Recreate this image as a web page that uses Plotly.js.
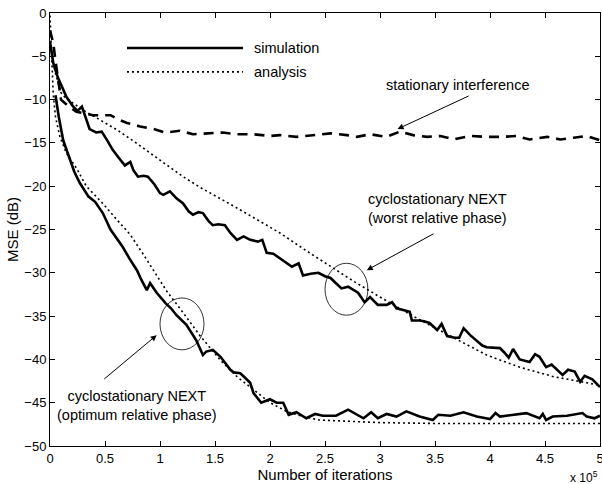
<!DOCTYPE html>
<html>
<head>
<meta charset="utf-8">
<script src="https://cdn.plot.ly/plotly-3.0.1.min.js"></script>
<style>
  html, body { margin: 0; padding: 0; background: #fff; }
  #chart { width: 602px; height: 484px; }
</style>
</head>
<body>
<div id="chart"></div>
<script>
// Iterations are in units of 1e5.

// Stationary interference, simulation (dashed)
const statX = [0, 0.03, 0.05, 0.08, 0.1, 0.17, 0.24, 0.39, 0.55, 0.62, 0.7, 0.82, 0.94, 1.05, 1.18, 1.3, 1.45, 1.57, 1.7, 1.85, 2.0, 2.09, 2.24, 2.39, 2.55, 2.7, 2.79, 2.91, 3.06, 3.18, 3.3, 3.43, 3.55, 3.67, 3.82, 3.97, 4.12, 4.24, 4.36, 4.52, 4.64, 4.76, 4.88, 5.0];
const statSim = [-2, -3.5, -5.5, -8.5, -10, -10.8, -11.4, -11.8, -11.8, -12.3, -12.7, -13.1, -13.4, -13.8, -13.6, -14.0, -13.9, -13.8, -14.0, -14.0, -14.2, -14.1, -14.3, -14.1, -13.9, -14.1, -14.3, -14.0, -14.3, -13.7, -14.1, -14.3, -14.2, -14.6, -14.2, -14.3, -14.3, -14.2, -14.6, -14.3, -14.6, -14.4, -14.2, -14.7];

// Cyclostationary NEXT, worst relative phase: simulation
const worstX = [0, 0.03, 0.07, 0.12, 0.15, 0.21, 0.25, 0.29, 0.32, 0.36, 0.42, 0.47, 0.52, 0.57, 0.63, 0.68, 0.73, 0.76, 0.80, 0.85, 0.89, 0.95, 1.00, 1.03, 1.09, 1.15, 1.21, 1.26, 1.30, 1.35, 1.39, 1.44, 1.48, 1.53, 1.59, 1.64, 1.70, 1.76, 1.82, 1.89, 1.93, 1.97, 2.03, 2.09, 2.15, 2.20, 2.26, 2.30, 2.37, 2.44, 2.50, 2.55, 2.60, 2.65, 2.71, 2.76, 2.80, 2.86, 2.91, 2.98, 3.06, 3.11, 3.15, 3.21, 3.27, 3.29, 3.36, 3.40, 3.45, 3.52, 3.56, 3.61, 3.68, 3.72, 3.76, 3.82, 3.88, 3.93, 3.97, 4.04, 4.09, 4.13, 4.17, 4.21, 4.27, 4.36, 4.41, 4.45, 4.51, 4.56, 4.61, 4.66, 4.71, 4.77, 4.82, 4.86, 4.93, 5.00];
const worstSim = [-3.3, -5.8, -7.4, -8.8, -9.7, -10.8, -11.3, -10.8, -12.0, -13.4, -13.8, -13.7, -14.7, -15.8, -16.8, -17.6, -17.2, -18.2, -18.9, -18.8, -18.9, -19.8, -20.8, -21.0, -20.6, -21.4, -22.0, -22.9, -23.3, -23.0, -23.1, -24.0, -24.5, -24.4, -24.5, -25.4, -26.2, -25.8, -26.2, -26.4, -26.2, -27.7, -27.8, -28.3, -28.9, -29.3, -28.9, -30.3, -30.1, -30.0, -30.4, -30.6, -31.2, -31.8, -31.6, -32.0, -32.3, -33.4, -32.8, -33.7, -33.7, -33.4, -34.1, -34.3, -34.5, -35.5, -35.5, -35.6, -35.8, -36.6, -35.9, -37.3, -37.5, -37.5, -36.4, -37.2, -37.8, -38.4, -38.6, -38.7, -38.7, -39.2, -39.8, -38.8, -40.0, -40.3, -39.4, -39.7, -40.9, -40.6, -41.2, -41.8, -41.2, -41.4, -42.6, -41.9, -42.3, -43.2];

// Cyclostationary NEXT, worst relative phase: analysis
const worstAnaX = [0, 0.05, 0.1, 0.14, 0.3, 0.45, 0.61, 0.76, 0.91, 1.06, 1.21, 1.36, 1.52, 1.67, 1.82, 2.0, 2.09, 2.3, 2.55, 2.75, 3.0, 3.3, 3.67, 3.97, 4.27, 4.58, 4.88, 5.0];
const worstAna = [-3.5, -7, -9.2, -9.8, -11.2, -12.3, -13.5, -14.8, -16.2, -17.6, -18.9, -20.1, -21.2, -22.3, -23.4, -24.7, -25.4, -27.2, -29.3, -30.9, -32.8, -35.0, -37.5, -39.5, -40.9, -42.0, -42.7, -43.0];

// Cyclostationary NEXT, optimum relative phase: simulation
const optX = [0.05, 0.08, 0.12, 0.18, 0.22, 0.27, 0.35, 0.41, 0.48, 0.55, 0.60, 0.66, 0.72, 0.79, 0.83, 0.88, 0.91, 0.97, 1.05, 1.10, 1.15, 1.24, 1.33, 1.39, 1.42, 1.48, 1.55, 1.60, 1.64, 1.67, 1.73, 1.78, 1.82, 1.85, 1.92, 2.00, 2.06, 2.12, 2.17, 2.24, 2.33, 2.41, 2.48, 2.60, 2.71, 2.85, 2.92, 2.98, 3.06, 3.15, 3.24, 3.36, 3.48, 3.53, 3.64, 3.76, 3.88, 4.00, 4.05, 4.09, 4.21, 4.33, 4.45, 4.48, 4.51, 4.57, 4.70, 4.84, 4.88, 4.95, 5.00];
const optSim = [-9.5, -12, -14.7, -17.0, -18.3, -19.6, -21.2, -21.8, -23.1, -25.0, -25.9, -27.0, -28.3, -29.7, -30.8, -32.0, -31.2, -32.3, -33.5, -34.1, -34.9, -36.0, -37.8, -39.5, -39.1, -38.9, -39.7, -40.5, -41.2, -41.5, -41.6, -42.2, -42.7, -43.9, -45.0, -44.6, -45.0, -45.0, -46.4, -46.1, -46.8, -46.3, -46.5, -46.5, -45.8, -46.8, -46.1, -46.8, -46.3, -46.6, -46.0, -46.6, -47.0, -46.4, -46.5, -46.1, -46.6, -46.9, -46.2, -46.6, -46.4, -46.2, -46.8, -46.3, -47.0, -46.6, -46.5, -46.2, -46.6, -46.8, -46.5];

// Cyclostationary NEXT, optimum relative phase: analysis
const optAnaX = [0, 0.01, 0.02, 0.03, 0.05, 0.09, 0.15, 0.24, 0.33, 0.48, 0.61, 0.73, 0.85, 0.94, 1.06, 1.21, 1.36, 1.55, 1.70, 1.82, 2.0, 2.15, 2.3, 2.45, 2.75, 3.0, 3.5, 4.0, 4.5, 5.0];
const optAna = [-0.3, -3, -6.2, -9.5, -12, -14.3, -16.2, -17.9, -20, -22, -23.9, -25.6, -27.9, -29.7, -32.1, -34.6, -37.2, -40.1, -42, -43.2, -45.0, -46.0, -46.6, -47.0, -47.2, -47.3, -47.4, -47.4, -47.4, -47.4];

const xTicks = [0, 0.5, 1, 1.5, 2, 2.5, 3, 3.5, 4, 4.5, 5];
const xTickText = ['0', '0.5', '1', '1.5', '2', '2.5', '3', '3.5', '4', '4.5', '5'];
const yTicks = [0, -5, -10, -15, -20, -25, -30, -35, -40, -45, -50];

const FONT = 'Liberation Sans, Arial, Helvetica, sans-serif';
const simLine = {color: '#000', width: 2.6};
const anaLine = {color: '#000', width: 1.6, dash: '2px,3px'};

const traces = [
  {x: optAnaX, y: optAna, mode: 'lines', line: anaLine, showlegend: false},
  {x: worstAnaX, y: worstAna, mode: 'lines', line: anaLine, showlegend: false},
  {x: statX, y: statSim, mode: 'lines', line: {color: '#000', width: 2.6, dash: '10px,7px'}, showlegend: false},
  {x: worstX, y: worstSim, mode: 'lines', line: simLine, showlegend: false},
  {x: optX, y: optSim, mode: 'lines', line: simLine, showlegend: false}
];

const txt = {family: FONT, size: 14.5, color: '#000'};
const arrow = {showarrow: true, arrowhead: 2, arrowsize: 1.2, arrowwidth: 1, arrowcolor: '#000', axref: 'x', ayref: 'y'};

const layout = {
  width: 602, height: 484,
  margin: {l: 50, r: 2, t: 13, b: 38},
  paper_bgcolor: '#fff', plot_bgcolor: '#fff',
  font: {family: FONT, size: 13, color: '#000'},
  xaxis: {
    range: [0, 5], tickvals: xTicks, ticktext: xTickText, ticklabeloverflow: 'allow',
    ticks: 'inside', ticklen: 5, tickcolor: '#000', mirror: 'ticks',
    showline: true, linecolor: '#000', linewidth: 1, showgrid: false, zeroline: false,
    tickfont: {family: FONT, size: 13},
    title: {text: 'Number of iterations', font: {family: FONT, size: 15}, standoff: 0}
  },
  yaxis: {
    range: [-50, 0], tickvals: yTicks,
    ticks: 'inside', ticklen: 5, tickcolor: '#000', mirror: 'ticks',
    showline: true, linecolor: '#000', linewidth: 1, showgrid: false, zeroline: false,
    tickfont: {family: FONT, size: 13},
    title: {text: 'MSE (dB)', font: {family: FONT, size: 15}, standoff: 2}
  },
  shapes: [
    // legend samples
    {type: 'line', xref: 'x', yref: 'y', x0: 0.7, x1: 1.755, y0: -4.04, y1: -4.04, line: {color: '#000', width: 2.6}},
    {type: 'line', xref: 'x', yref: 'y', x0: 0.7, x1: 1.755, y0: -6.8, y1: -6.8, line: {color: '#000', width: 1.6, dash: '2px,3px'}},
    // marked regions
    {type: 'circle', xref: 'x', yref: 'y', x0: 2.5, x1: 2.89, y0: -28.9, y1: -34.9, line: {color: '#000', width: 0.8}},
    {type: 'circle', xref: 'x', yref: 'y', x0: 1.0, x1: 1.4, y0: -32.9, y1: -38.9, line: {color: '#000', width: 0.8}}
  ],
  annotations: [
    {x: 1.836, y: -4.04, xref: 'x', yref: 'y', text: 'simulation', showarrow: false, xanchor: 'left', font: txt},
    {x: 1.836, y: -6.8, xref: 'x', yref: 'y', text: 'analysis', showarrow: false, xanchor: 'left', font: txt},
    {x: 3.7, y: -8.3, xref: 'x', yref: 'y', text: 'stationary interference', showarrow: false, font: txt},
    Object.assign({x: 3.16, y: -13.4, ax: 3.82, ay: -9.5, xref: 'x', yref: 'y', text: ''}, arrow),
    {x: 3.52, y: -22.6, xref: 'x', yref: 'y', text: 'cyclostationary NEXT<br>(worst relative phase)', showarrow: false, font: txt},
    Object.assign({x: 2.88, y: -29.7, ax: 3.5, ay: -25.4, xref: 'x', yref: 'y', text: ''}, arrow),
    {x: 0.79, y: -45.3, xref: 'x', yref: 'y', text: 'cyclostationary NEXT<br>(optimum relative phase)', showarrow: false, font: txt},
    Object.assign({x: 0.97, y: -37.2, ax: 0.48, ay: -42.4, xref: 'x', yref: 'y', text: ''}, arrow),
    {x: 1, y: 0, xref: 'paper', yref: 'paper', yshift: -21, text: 'x 10<sup>5</sup>', showarrow: false, xanchor: 'right', yanchor: 'top', font: {family: FONT, size: 12}}
  ]
};

Plotly.newPlot('chart', traces, layout, {displayModeBar: false, staticPlot: true});
</script>
</body>
</html>
